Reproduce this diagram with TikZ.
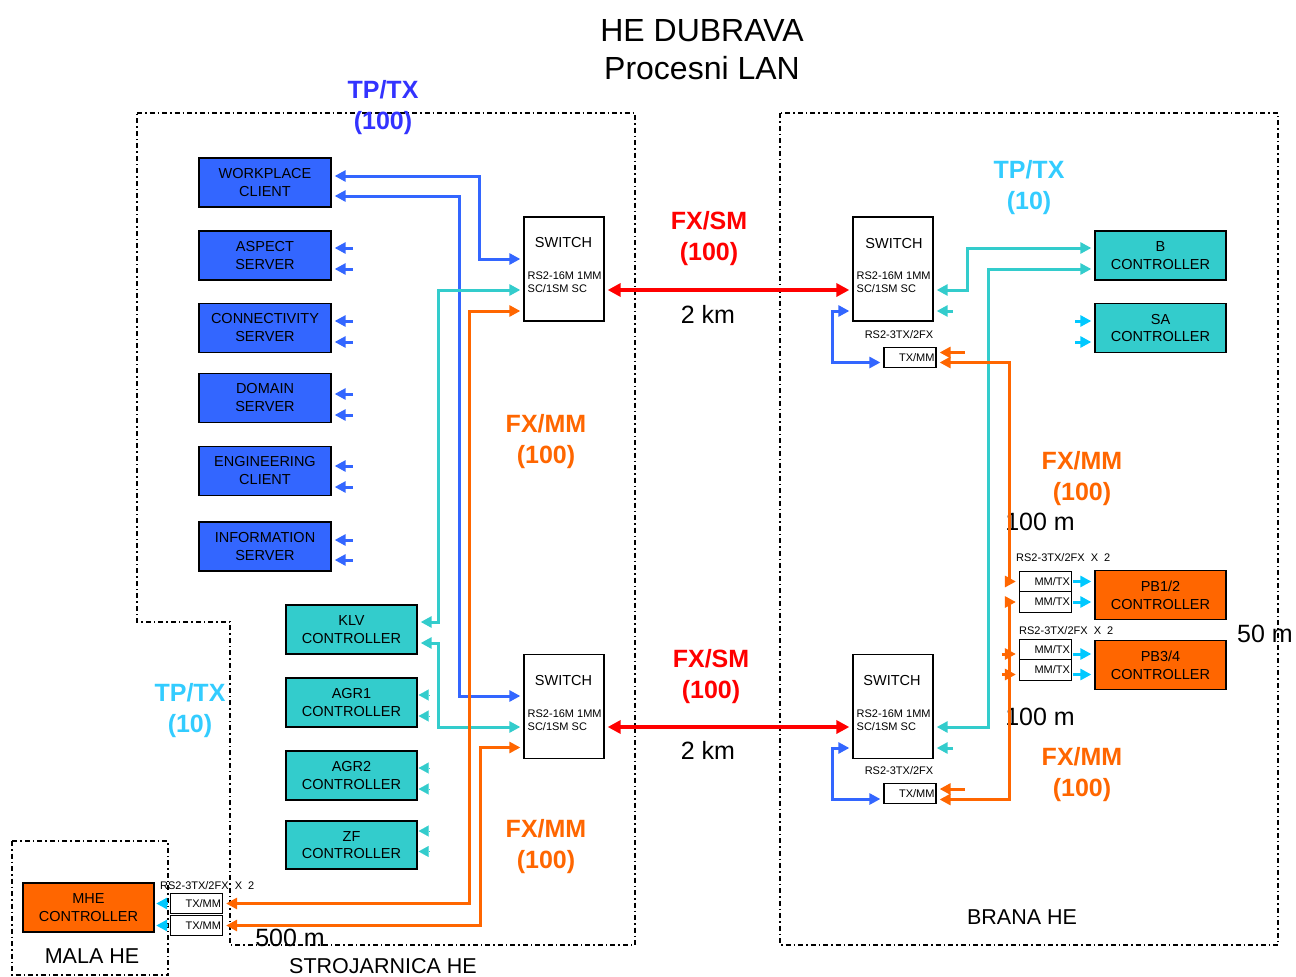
\documentclass[tikz,border=0pt]{standalone}
\usepackage{fontspec}
\setmainfont{Liberation Sans}
\usetikzlibrary{arrows.meta,calc}
\newcommand\myfs[2]{\fontsize{#1}{#2}\selectfont}
\definecolor{bbox}{HTML}{3366FF}
\definecolor{tbox}{HTML}{33CCCC}
\definecolor{obox}{HTML}{FF6600}
\definecolor{rline}{HTML}{FF0000}
\definecolor{ttl}{HTML}{3333FF}
\definecolor{lbl}{HTML}{33CCFF}
\definecolor{cyn}{HTML}{00C8FF}
\tikzset{
  bxb/.style={draw=black, line width=1.3pt, fill=bbox, minimum width=132pt, minimum height=49pt, inner sep=0pt, align=center, font=\myfs{14.5}{18}},
  bxt/.style={bxb, fill=tbox, minimum width=131pt, font=\myfs{14.5}{17.5}},
  bxo/.style={bxb, fill=obox, minimum width=131pt},
  swbox/.style={draw=black, line width=1.3pt, fill=white, minimum width=80pt, minimum height=104pt, inner sep=0pt},
  smbox/.style={draw=black, line width=1.2pt, fill=white, minimum height=20.5pt, inner sep=1.5pt, text width=49pt, align=right, font=\myfs{11}{12}},
  swt/.style={font=\myfs{14.5}{17}, inner sep=0pt},
  swm/.style={font=\myfs{11}{13}, align=left, anchor=west, inner sep=0pt},
  rsl/.style={font=\myfs{11}{13}, inner sep=0pt},
  ln/.style={line width=3pt, shorten <=3pt, shorten >=3pt},
  twotip/.style={arrows={{Triangle[length=11pt,width=11pt]}-{Triangle[length=11pt,width=11pt]}}},
  onetip/.style={arrows={-{Triangle[length=11pt,width=11pt]}}},
  headonly/.style={line width=0.1pt, shorten >=1pt, arrows={-{Triangle[length=10pt,width=11pt]}}},
  redln/.style={line width=4pt, rline, shorten <=3pt, shorten >=3pt, arrows={{Triangle[length=13pt,width=13pt]}-{Triangle[length=13pt,width=13pt]}}},
  dreg/.style={line width=1.1pt, dash pattern=on 5pt off 3pt on 1.5pt off 3pt},
  big/.style={font=\myfs{25}{31}\bfseries, align=center, inner sep=0pt},
  dist/.style={font=\myfs{25}{30}, inner sep=0pt},
  area/.style={font=\myfs{21.5}{26}, inner sep=0pt}
}
\begin{document}
\begin{tikzpicture}[x=1pt,y=-1pt]
\useasboundingbox (0,0) rectangle (1296,977);

% regions
\draw[dreg] (137,113) -- (635,113) -- (635,945) -- (230,945) -- (230,622) -- (137,622) -- cycle;
\draw[dreg] (780,113) rectangle (1278,945);
\draw[dreg] (12,841) rectangle (168,975);

% title and labels
\node[font=\myfs{32}{38}, align=center, inner sep=0pt] (title) at (702,50) {HE DUBRAVA\\Procesni LAN};
\node[big, ttl] (tp1) at (383,108) {TP/TX\\(100)};
\node[big, rline] (fxsm1) at (709,239) {FX/SM\\(100)};
\node[dist] (km1) at (708,314) {2 km};
\node[big, obox] (fxmm1) at (546,441.5) {FX/MM\\(100)};
\node[big, lbl] (tp2) at (1029,187.5) {TP/TX\\(10)};
\node[big, obox] (fxmm2) at (1082,478.5) {FX/MM\\(100)};
\node[dist] (m100a) at (1040,522) {100 m};
\node[dist] (m50) at (1265,634) {50 m};
\node[dist] (m100b) at (1040,717) {100 m};
\node[big, obox] (fxmm3) at (1082,774.5) {FX/MM\\(100)};
\node[big, rline] (fxsm2) at (711,676.5) {FX/SM\\(100)};
\node[dist] (km2) at (708,750) {2 km};
\node[big, lbl] (tp3) at (190,710.5) {TP/TX\\(10)};
\node[big, obox] (fxmm4) at (546,847) {FX/MM\\(100)};
\node[dist] (m500) at (290,938) {500 m};
\node[area] (stroj) at (383,966) {STROJARNICA HE};
\node[area] (brana) at (1022,917) {BRANA HE};
\node[area] (mala) at (92,956) {MALA HE};

% left blue boxes
\node[bxb] (wc) at (265,182.5) {WORKPLACE\\CLIENT};
\node[bxb] (as) at (265,255.5) {ASPECT\\SERVER};
\node[bxb] (cs) at (265,328) {CONNECTIVITY\\SERVER};
\node[bxb] (ds) at (265,398) {DOMAIN\\SERVER};
\node[bxb] (ec) at (265,471) {ENGINEERING\\CLIENT};
\node[bxb] (is) at (265,546.5) {INFORMATION\\SERVER};

% left teal boxes
\node[bxt] (klv) at (351.5,629.5) {KLV\\CONTROLLER};
\node[bxt] (agr1) at (351.5,702.5) {AGR1\\CONTROLLER};
\node[bxt] (agr2) at (351.5,775.5) {AGR2\\CONTROLLER};
\node[bxt, minimum height=48pt] (zf) at (351.5,845) {ZF\\CONTROLLER};

% mala he
\node[bxo] (mhe) at (88.5,907.5) {MHE\\CONTROLLER};
\node[smbox] (mhe1) at (196.5,903.5) {TX/MM};
\node[smbox] (mhe2) at (196.5,925.5) {TX/MM};
\node[rsl, anchor=west] (mherl) at (160,886) {RS2-3TX/2FX\ \ X\ \ 2};

% switches
\node[swbox] (sw1) at (564,269) {};
\node[swt] (sw1a) at (563.5,243) {SWITCH};
\node[swm] (sw1b) at (527.5,282.5) {RS2-16M 1MM\\SC/1SM SC};
\node[swbox] (sw2) at (564,706.5) {};
\node[swt] (sw2a) at (563.5,681) {SWITCH};
\node[swm] (sw2b) at (527.5,720) {RS2-16M 1MM\\SC/1SM SC};
\node[swbox] (sw3) at (893,269) {};
\node[swt] (sw3a) at (894,244) {SWITCH};
\node[swm] (sw3b) at (856.5,282.5) {RS2-16M 1MM\\SC/1SM SC};
\node[swbox] (sw4) at (893,706.5) {};
\node[swt] (sw4a) at (892,681) {SWITCH};
\node[swm] (sw4b) at (856.5,720) {RS2-16M 1MM\\SC/1SM SC};

% right side small boxes
\node[rsl] (txarl) at (899,335) {RS2-3TX/2FX};
\node[smbox] (txa) at (910,357.5) {TX/MM};
\node[rsl] (txbrl) at (899,771) {RS2-3TX/2FX};
\node[smbox] (txb) at (910,793.5) {TX/MM};

% right controllers
\node[bxt, minimum width=131pt] (bc) at (1160.5,255.5) {B\\CONTROLLER};
\node[bxt, minimum width=131pt] (sa) at (1160.5,328) {SA\\CONTROLLER};
\node[bxo] (pb12) at (1160.5,595) {PB1/2\\CONTROLLER};
\node[bxo] (pb34) at (1160.5,665) {PB3/4\\CONTROLLER};
\node[rsl, anchor=west] (pbrl1) at (1016,558) {RS2-3TX/2FX\ \ X\ \ 2};
\node[smbox] (mm1) at (1045.5,581.5) {MM/TX};
\node[smbox] (mm2) at (1045.5,602) {MM/TX};
\node[rsl, anchor=west] (pbrl2) at (1019,631) {RS2-3TX/2FX\ \ X\ \ 2};
\node[smbox] (mm3) at (1045.5,649.5) {MM/TX};
\node[smbox] (mm4) at (1045.5,670) {MM/TX};

% ---- connectors, left
\draw[ln,twotip,bbox] ([yshift=6.5pt]wc.east) -- (479,176) |- ([yshift=10pt]sw1.west);
\draw[ln,twotip,bbox] ([yshift=-13.5pt]wc.east) -- (459,196) |- ([yshift=10.5pt]sw2.west);
\draw[ln,twotip,tbox] ([yshift=-21pt]sw1.west) -- (438,290) |- ([yshift=7.5pt]klv.east);
\draw[ln,twotip,tbox] ([yshift=-13.5pt]klv.east) -- (438,643) |- ([yshift=-20.5pt]sw2.west);
\draw[ln,twotip,obox] ([yshift=-42pt]sw1.west) -- (469,311) |- (mhe1.east);
\draw[ln,twotip,obox] ([yshift=-41pt]sw2.west) -- (480,747.5) |- (mhe2.east);

% blue stubs
\foreach \b/\u/\d in {as/7.5/-13.5, cs/7/-14, ds/4/-17, ec/5/-16, is/6.5/-13.5}{
  \draw[ln,onetip,bbox] ([xshift=24pt,yshift=\u pt]\b.east) -- ([yshift=\u pt]\b.east);
  \draw[ln,onetip,bbox] ([xshift=24pt,yshift=\d pt]\b.east) -- ([yshift=\d pt]\b.east);
}
% teal heads
\foreach \b/\u/\d in {agr1/7.5/-13.5, agr2/7.5/-13.5, zf/14/-6.5}{
  \draw[headonly,tbox] ([xshift=12pt,yshift=\u pt]\b.east) -- ([yshift=\u pt]\b.east);
  \draw[headonly,tbox] ([xshift=12pt,yshift=\d pt]\b.east) -- ([yshift=\d pt]\b.east);
}
% cyan into MHE
\draw[line width=3pt, cyn, shorten <=2pt, shorten >=1.5pt, onetip] (mhe1.west) -- (mhe1.west -| mhe.east);
\draw[line width=3pt, cyn, shorten <=2pt, shorten >=1.5pt, onetip] (mhe2.west) -- (mhe2.west -| mhe.east);

% red links
\draw[redln] ([yshift=-21pt]sw1.east) -- ([yshift=-21pt]sw3.west);
\draw[redln] ([yshift=-20.5pt]sw2.east) -- ([yshift=-20.5pt]sw4.west);

% ---- right side
\draw[ln,twotip,tbox] ([yshift=-21pt]sw3.east) -- (967,290) |- ([yshift=7.5pt]bc.west);
\draw[ln,twotip,tbox] ([yshift=-13.5pt]bc.west) -- (988,269) |- ([yshift=-20.5pt]sw4.east);
\draw[ln,onetip,tbox] ([xshift=22pt,yshift=-42pt]sw3.east) -- ([yshift=-42pt]sw3.east);
\draw[ln,onetip,tbox] ([xshift=22pt,yshift=-41.5pt]sw4.east) -- ([yshift=-41.5pt]sw4.east);

\draw[ln,twotip,bbox] ([yshift=-42pt]sw3.west) -- (832,311) |- ([yshift=-5pt]txa.west);
\draw[ln,twotip,bbox] ([yshift=-41.5pt]sw4.west) -- (832,748) |- ([yshift=-5.5pt]txb.west);

\draw[ln,onetip,obox] ([xshift=31pt,yshift=5pt]txa.east) -- ([yshift=5pt]txa.east);
\draw[ln,onetip,obox] ([xshift=31pt,yshift=4.5pt]txb.east) -- ([yshift=4.5pt]txb.east);
\draw[ln,twotip,obox] ([yshift=-5pt]txa.east) -- (1009,362.5) |- (mm1.west);
\draw[ln,twotip,obox] ([yshift=-6pt]txb.east) -- (1009,799.5) |- (mm2.west);
\draw[ln,onetip,obox] ([xshift=-20pt,yshift=-4.5pt]mm3.west) -- ([yshift=-4.5pt]mm3.west);
\draw[ln,onetip,obox] ([xshift=-20pt,yshift=-4.5pt]mm4.west) -- ([yshift=-4.5pt]mm4.west);

% cyan to SA and PB
\draw[ln,onetip,cyn] ([xshift=-22pt,yshift=7pt]sa.west) -- ([yshift=7pt]sa.west);
\draw[ln,onetip,cyn] ([xshift=-22pt,yshift=-14pt]sa.west) -- ([yshift=-14pt]sa.west);
\draw[ln,onetip,cyn,shorten <=1pt] (mm1.east) -- (mm1.east -| pb12.west);
\draw[ln,onetip,cyn,shorten <=1pt] (mm2.east) -- (mm2.east -| pb12.west);
\draw[ln,onetip,cyn,shorten <=1pt] ([yshift=-4.5pt]mm3.east) -- ([yshift=-4.5pt]mm3.east -| pb34.west);
\draw[ln,onetip,cyn,shorten <=1pt] ([yshift=-4.5pt]mm4.east) -- ([yshift=-4.5pt]mm4.east -| pb34.west);
\end{tikzpicture}
\end{document}
